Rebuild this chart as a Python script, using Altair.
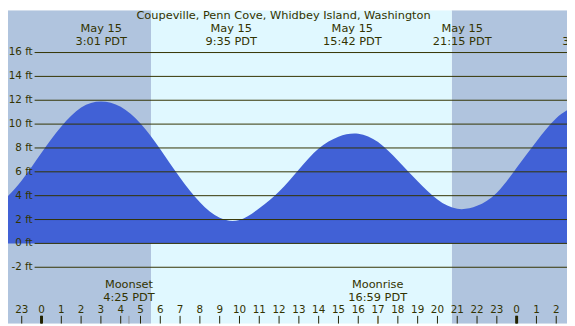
import altair as alt
import pandas as pd

# ---- data ----
tide_hours = [-3, -2, -1, 0, 1, 2, 3, 4, 5, 6, 7, 8, 9, 10, 11, 12, 13, 14, 15, 16,
              17, 18, 19, 20, 21, 22, 23, 24, 25, 26, 27, 28]
tide_ft = [2.7, 3.55, 5.28, 7.6, 9.8, 11.4, 11.9, 11.45, 10.05, 7.9, 5.5, 3.45, 2.15,
           1.97, 2.95, 4.35, 6.2, 7.95, 8.95, 9.2, 8.5, 6.95, 5.2, 3.68, 2.9, 3.15, 4.25,
           6.35, 8.55, 10.5, 11.5, 11.8]

grid_ft = [-2, 0, 2, 4, 6, 8, 10, 12, 14, 16]
grid_labels = ["-2 ft", "0 ft", "2 ft", "4 ft", "6 ft", "8 ft", "10 ft", "12 ft", "14 ft", "16 ft"]

hour_ticks = [-2, -1, 0, 1, 2, 3, 4, 5, 6, 7, 8, 9, 10, 11, 12, 13, 14, 15, 16, 17,
              18, 19, 20, 21, 22, 23, 24, 25, 26]
hour_labels = ["", "23", "0", "1", "2", "3", "4", "5", "6", "7", "8", "9", "10", "11",
               "12", "13", "14", "15", "16", "17", "18", "19", "20", "21", "22", "23",
               "0", "1", "2"]
midnight_hours = [0, 24]

event_hours = [3.017, 9.583, 15.7, 21.25, 27.6]
event_dates = ["May 15", "May 15", "May 15", "May 15", ""]
event_times = ["3:01 PDT", "9:35 PDT", "15:42 PDT", "21:15 PDT", "3:36 PDT"]

night_start = [-4.0, 20.72]
night_end = [5.53, 30.0]
day_start = [5.53]
day_end = [20.72]

moon_hours = [4.417, 16.983]
moon_names = ["Moonset", "Moonrise"]
moon_times = ["4:25 PDT", "16:59 PDT"]
moon_colors = ["#8c8c8c", "#8a7440"]

title_text = "Coupeville, Penn Cove, Whidbey Island, Washington"

# ---- layout ----
W, H = 567, 318
X_DOMAIN = [-1.693, 26.544]
Y_DOMAIN = [-6.736, 19.545]
TXT = "#333300"
FONT = "DejaVu Sans"
FS = 11.5
FS_NUM = 10.5

xs = alt.Scale(domain=X_DOMAIN, nice=False, zero=False)
ys = alt.Scale(domain=Y_DOMAIN, nice=False, zero=False)

tide_df = pd.DataFrame({"h": tide_hours, "ft": tide_ft})
grid_df = pd.DataFrame({"ft": grid_ft, "lab": grid_labels})
hour_df = pd.DataFrame({"h": hour_ticks, "lab": hour_labels})
mid_df = pd.DataFrame({"h": midnight_hours})
ev_df = pd.DataFrame({"h": event_hours, "d": event_dates, "t": event_times})
night_df = pd.DataFrame({"a": night_start, "b": night_end})
day_df = pd.DataFrame({"a": day_start, "b": day_end})
moon_df = pd.DataFrame({"h": moon_hours, "n": moon_names, "t": moon_times, "c": moon_colors})
title_df = pd.DataFrame({"t": [title_text]})

X = lambda f: alt.X(f, type="quantitative", scale=xs, axis=None)
Y = lambda f: alt.Y(f, type="quantitative", scale=ys, axis=None)

night = alt.Chart(night_df).mark_rect(color="#b0c4de", clip=True).encode(
    x=X("a"), x2="b", y=alt.value(0), y2=alt.value(H))
day = alt.Chart(day_df).mark_rect(color="#e0f8ff", clip=True).encode(
    x=X("a"), x2="b", y=alt.value(0), y2=alt.value(H))

area = alt.Chart(tide_df).mark_area(color="#4161d6", interpolate="natural", clip=True).encode(
    x=X("h"), y=Y("ft"), y2=alt.value(H))

grid = alt.Chart(grid_df).mark_rule(color=TXT, strokeWidth=1).encode(
    y=Y("ft"), x=alt.value(27), x2=alt.value(W))
grid_text = alt.Chart(grid_df).mark_text(align="right", baseline="middle", font=FONT,
                                         fontSize=FS_NUM, color=TXT).encode(
    y=Y("ft"), x=alt.value(25), text="lab")

ticks = alt.Chart(hour_df).mark_rule(color="#222200", strokeWidth=1, clip=True).encode(
    x=X("h"), y=alt.value(310), y2=alt.value(H))
mid_ticks = alt.Chart(mid_df).mark_rule(color="#222200", strokeWidth=3, clip=True).encode(
    x=X("h"), y=alt.value(310), y2=alt.value(H))
hour_text = alt.Chart(hour_df).mark_text(baseline="alphabetic", font=FONT, fontSize=FS_NUM,
                                         color=TXT).encode(
    x=X("h"), y=alt.value(307.5), text="lab")

moon_ticks = alt.Chart(moon_df).mark_rule(strokeWidth=1).encode(
    x=X("h"), y=alt.value(310), y2=alt.value(H), color=alt.Color("c:N", scale=None))
moon_name = alt.Chart(moon_df).mark_text(baseline="alphabetic", font=FONT, fontSize=FS,
                                         color=TXT).encode(
    x=X("h"), y=alt.value(281.5), text="n")
moon_time = alt.Chart(moon_df).mark_text(baseline="alphabetic", font=FONT, fontSize=FS,
                                         color=TXT).encode(
    x=X("h"), y=alt.value(295), text="t")

ev_date = alt.Chart(ev_df).mark_text(baseline="alphabetic", font=FONT, fontSize=FS,
                                     color=TXT).encode(
    x=X("h"), y=alt.value(22), text="d")
ev_time = alt.Chart(ev_df).mark_text(baseline="alphabetic", font=FONT, fontSize=FS,
                                     color=TXT).encode(
    x=X("h"), y=alt.value(35), text="t")

title = alt.Chart(title_df).mark_text(baseline="alphabetic", font=FONT, fontSize=FS,
                                      color=TXT).encode(
    x=alt.value(279.5), y=alt.value(9), text="t")

chart = alt.layer(
    night, day, area, grid, grid_text, ticks, mid_ticks, moon_ticks,
    hour_text, moon_name, moon_time, ev_date, ev_time, title
).properties(
    width=W, height=H, padding=0,
    autosize=alt.AutoSizeParams(type="none")
).configure_view(stroke=None)

chart.save("out.html", embed_options={"renderer": "svg", "actions": False})
